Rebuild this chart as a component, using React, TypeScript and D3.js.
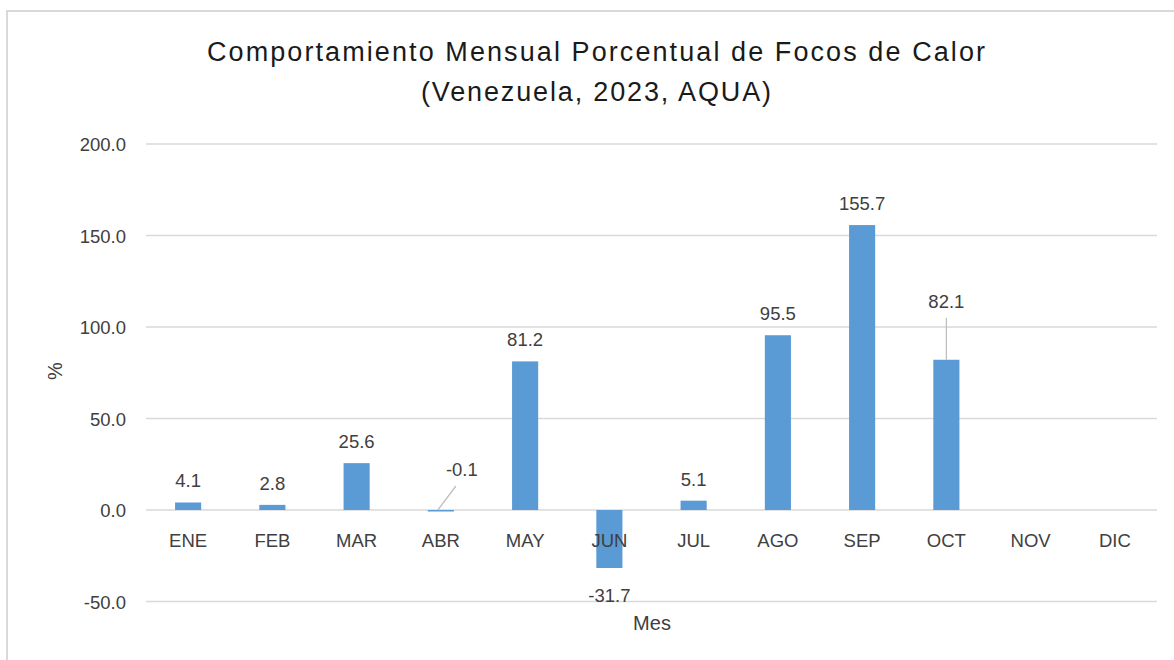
import * as d3 from 'd3';

const MONTHS = ['ENE', 'FEB', 'MAR', 'ABR', 'MAY', 'JUN', 'JUL', 'AGO', 'SEP', 'OCT', 'NOV', 'DIC'];
const VALUES: (number | null)[] = [4.1, 2.8, 25.6, -0.1, 81.2, -31.7, 5.1, 95.5, 155.7, 82.1, null, null];
const Y_TICKS = [-50, 0, 50, 100, 150, 200];
const TITLE_LINES = ['Comportamiento Mensual Porcentual de Focos de Calor', '(Venezuela, 2023, AQUA)'];
const TITLE_WIDTHS = [778, 350];

// hand-placed labels (with leader lines) like the original Excel chart
const LABEL_NUDGE: Record<string, { dx: number; dy: number }> = {
  ABR: { dx: 21, dy: -34 },
  OCT: { dx: 0, dy: -52 },
};

const W = 1174;
const H = 660;
const BAR_COLOR = '#5b9bd5';
const GRID = '#d9d9d9';
const TEXT = '#404040';
const FONT = '"Liberation Sans", Arial, sans-serif';

export default function App() {
  const margin = { left: 146, right: 17, top: 144, bottom: 58 };
  const x = d3.scaleBand<string>()
    .domain(MONTHS)
    .range([margin.left, W - margin.right])
    .paddingInner(0.69)
    .paddingOuter(0.345);
  const y = d3.scaleLinear().domain([-50, 200]).range([601.5, 144]);
  const y0 = y(0);
  const bw = x.bandwidth();

  return (
    <svg width={W} height={H} style={{ position: 'absolute', left: 0, top: 0, fontFamily: FONT, background: 'white' }}>
      {/* chart frame */}
      <path d={`M7,${H + 2} V11 H${W + 2}`} fill="none" stroke={GRID} strokeWidth={2} />

      {TITLE_LINES.map((t, i) => (
        <text
          key={i}
          x={596}
          y={61 + i * 40}
          textAnchor="middle"
          fontSize={27}
          fill="#1a1a1a"
          textLength={TITLE_WIDTHS[i]}
          lengthAdjust="spacing"
        >
          {t}
        </text>
      ))}

      {/* grid + y ticks */}
      {Y_TICKS.map(t => (
        <g key={t}>
          <line x1={margin.left} x2={W - margin.right} y1={y(t)} y2={y(t)} stroke={GRID} strokeWidth={1.3} />
          <text x={126} y={y(t) + 7} textAnchor="end" fontSize={18.5} fill={TEXT}>
            {t.toFixed(1)}
          </text>
        </g>
      ))}

      {/* bars */}
      {MONTHS.map((m, i) => {
        const v = VALUES[i];
        if (v == null) return null;
        const top = Math.min(y(v), y0);
        const h = Math.max(Math.abs(y(v) - y0), 1.5);
        return <rect key={m} x={x(m)!} y={top} width={bw} height={h} fill={BAR_COLOR} />;
      })}

      {/* category labels */}
      {MONTHS.map(m => (
        <text key={m} x={x(m)! + bw / 2} y={547} textAnchor="middle" fontSize={18.5} fill={TEXT}>
          {m}
        </text>
      ))}

      {/* data labels */}
      {MONTHS.map((m, i) => {
        const v = VALUES[i];
        if (v == null) return null;
        const cx = x(m)! + bw / 2;
        const nudge = LABEL_NUDGE[m];
        let lx = cx;
        let ly = v >= 0 ? y(v) - 15 : y(v) + 34;
        if (nudge) {
          lx = cx + nudge.dx;
          ly = y(Math.max(v, 0)) + nudge.dy;
        }
        return (
          <g key={m}>
            {nudge && (
              <line
                x1={nudge.dx ? lx - 6 : cx}
                y1={ly + 10}
                x2={nudge.dx ? cx - 3 : cx}
                y2={y(Math.max(v, 0))}
                stroke="#bfbfbf"
                strokeWidth={1.3}
              />
            )}
            <text x={lx} y={ly} textAnchor="middle" fontSize={18.5} fill={TEXT}>
              {v.toFixed(1)}
            </text>
          </g>
        );
      })}

      {/* axis titles */}
      <text x={652} y={630} textAnchor="middle" fontSize={20} fill={TEXT}>Mes</text>
      <text transform={`translate(62,371) rotate(-90)`} textAnchor="middle" fontSize={20} fill={TEXT}>%</text>
    </svg>
  );
}
